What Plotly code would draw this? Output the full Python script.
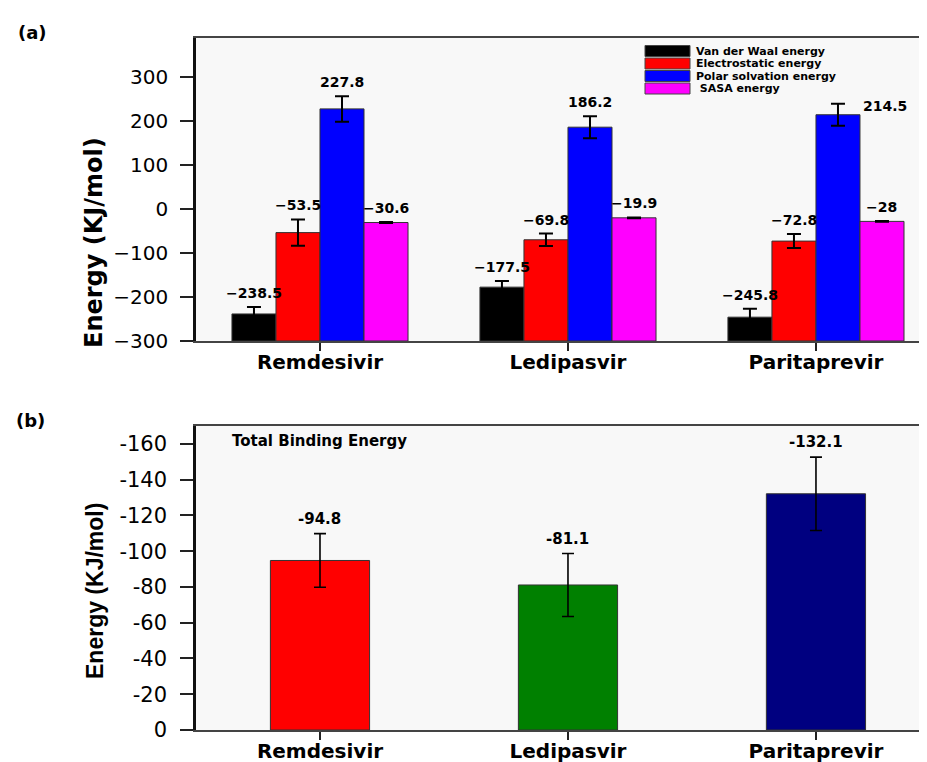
import plotly.graph_objects as go

# ---------------- data ----------------
drugs = ["Remdesivir", "Ledipasvir", "Paritaprevir"]
components = ["Van der Waal energy", "Electrostatic energy",
              "Polar solvation energy", " SASA energy"]
vdw = [-238.5, -177.5, -245.8]
vdw_err = [16, 14, 19]
elec = [-53.5, -69.8, -72.8]
elec_err = [30, 14, 16]
polar = [227.8, 186.2, 214.5]
polar_err = [29, 25, 25]
sasa = [-30.6, -19.9, -28.0]
sasa_err = [1, 1, 1]
comp_colors = ["#000000", "#ff0000", "#0000ff", "#ff00ff"]

total = [-94.8, -81.1, -132.1]
total_err = [15, 17.6, 20.5]
total_colors = ["#ff0000", "#008000", "#000080"]

top_ticks = [-300, -200, -100, 0, 100, 200, 300]
bottom_ticks = [0, 20, 40, 60, 80, 100, 120, 140, 160]

# ---------------- figure ----------------
W, H = 927, 762
fig = go.Figure()

series = [vdw, elec, polar, sasa]
series_err = [vdw_err, elec_err, polar_err, sasa_err]
xs = list(range(len(drugs)))
group_w = 0.71
bw = group_w / len(series)
ybase = top_ticks[0]  # bars rise from the bottom of the value axis

annotations = []
BOLD = "DejaVu Sans"

for i, (name, vals, errs, col) in enumerate(zip(components, series, series_err, comp_colors)):
    off = -group_w / 2 + i * bw
    fig.add_trace(go.Bar(
        x=xs, y=[v - ybase for v in vals], base=ybase, name=name, width=bw, offset=off,
        marker=dict(color=col, line=dict(color="#333333", width=1)),
        error_y=dict(type="data", array=errs, visible=True, color="#000000",
                     thickness=2, width=7),
        xaxis="x", yaxis="y", showlegend=False,
    ))
    for j, (v, e) in enumerate(zip(vals, errs)):
        txt = f"{v:g}".replace("-", "\u2212")
        ann = dict(x=j + off + bw / 2, y=v + e, xref="x", yref="y", text=txt,
                   showarrow=False, yanchor="bottom", yshift=4,
                   font=dict(family=BOLD, size=14, color="#000000", weight="bold"))
        if i == 2 and j == len(drugs) - 1:
            # label moved beside the bar to stay clear of the legend
            ann.update(xshift=47, yanchor="middle", yshift=-2)
        annotations.append(ann)

mag = [-t for t in total]
fig.add_trace(go.Bar(
    x=xs, y=mag, width=0.4,
    marker=dict(color=total_colors, line=dict(color="#333333", width=1)),
    error_y=dict(type="data", array=total_err, visible=True, color="#000000",
                 thickness=1.6, width=6),
    xaxis="x2", yaxis="y2", showlegend=False,
))
for j, (t, m, e) in enumerate(zip(total, mag, total_err)):
    annotations.append(dict(x=j, y=m + e, xref="x2", yref="y2", text=f"{t:g}",
                            showarrow=False, yanchor="bottom", yshift=4,
                            font=dict(family=BOLD, size=15, color="#000000", weight="bold")))

# custom legend (wide swatches like the reference)
shapes = []
leg_x0, leg_x1 = 637, 682
leg_y0 = 43
pitch = 12.5
for i, (name, col) in enumerate(zip(components, comp_colors)):
    yc = leg_y0 + i * pitch
    shapes.append(dict(type="rect", xref="paper", yref="paper",
                       x0=leg_x0 / W, x1=leg_x1 / W,
                       y0=1 - (yc + 5.5) / H, y1=1 - (yc - 5.5) / H,
                       fillcolor=col, line=dict(color="#444444", width=1)))
    annotations.append(dict(x=686 / W, y=1 - yc / H, xref="paper", yref="paper",
                            text=name, showarrow=False, xanchor="left", yanchor="middle",
                            font=dict(family=BOLD, size=11, color="#000000", weight="bold")))

# panel labels, axis titles, inner title
annotations += [
    dict(x=8 / W, y=1 - 25 / H, xref="paper", yref="paper", text="(a)", showarrow=False,
         xanchor="left", yanchor="middle",
         font=dict(family=BOLD, size=18, color="#000000", weight="bold")),
    dict(x=6 / W, y=1 - 412 / H, xref="paper", yref="paper", text="(b)", showarrow=False,
         xanchor="left", yanchor="middle",
         font=dict(family=BOLD, size=18, color="#000000", weight="bold")),
    dict(x=86 / W, y=1 - 235 / H, xref="paper", yref="paper", text="Energy (KJ/mol)",
         showarrow=False, textangle=-90, xanchor="center", yanchor="middle",
         font=dict(family=BOLD, size=24, color="#000000", weight="bold")),
    dict(x=87 / W, y=1 - 583 / H, xref="paper", yref="paper", text="Energy (KJ/mol)",
         showarrow=False, textangle=-90, xanchor="center", yanchor="middle",
         font=dict(family="Liberation Sans", size=23, color="#000000", weight="bold")),
    dict(x=222 / W, y=1 - 433 / H, xref="paper", yref="paper", text="Total Binding Energy",
         showarrow=False, xanchor="left", yanchor="middle",
         font=dict(family=BOLD, size=15, color="#000000", weight="bold")),
]

xl = 188 / W
top_dom = [1 - 333 / H, 1 - 30 / H]
bot_dom = [1 - 722 / H, 1 - 418 / H]

xaxis_common = dict(range=[-0.5, 2.48], tickvals=xs, ticktext=drugs, ticks="outside",
                    ticklen=8, tickwidth=1.5, tickcolor="#222222",
                    showline=True, linecolor="#444444", linewidth=1.5, mirror=True,
                    showgrid=False, zeroline=False, automargin=False,
                    ticklabelstandoff=-6,
                    tickfont=dict(family=BOLD, size=20, color="#000000", weight="bold"))

fig.update_layout(
    width=W, height=H, autosize=False,
    margin=dict(l=0, r=0, t=0, b=0),
    paper_bgcolor="#ffffff", plot_bgcolor="#f8f8f8",
    barmode="group",
    xaxis=dict(domain=[xl, 1], anchor="y", **xaxis_common),
    yaxis=dict(domain=top_dom, anchor="x", range=[-300, 389], tickvals=top_ticks,
               ticktext=[f"{t}".replace("-", "\u2212") for t in top_ticks],
               ticks="outside", ticklen=13, tickwidth=1.5, tickcolor="#222222",
               showline=True, linecolor="#111111", linewidth=2.5,
               showgrid=False, zeroline=False, automargin=False, ticklabelstandoff=8,
               tickfont=dict(family="DejaVu Sans", size=20, color="#000000")),
    xaxis2=dict(domain=[xl, 1], anchor="y2", **xaxis_common),
    yaxis2=dict(domain=bot_dom, anchor="x2", range=[0, 170], tickvals=bottom_ticks,
                ticktext=["0" if t == 0 else f"-{t}" for t in bottom_ticks],
                ticks="outside", ticklen=13, tickwidth=1.5, tickcolor="#222222",
                showline=True, linecolor="#111111", linewidth=2.5,
                showgrid=False, zeroline=False, automargin=False, ticklabelstandoff=9,
                tickfont=dict(family="DejaVu Sans", size=21, color="#000000")),
    annotations=annotations,
    shapes=shapes,
)

fig.write_html("out.html")
